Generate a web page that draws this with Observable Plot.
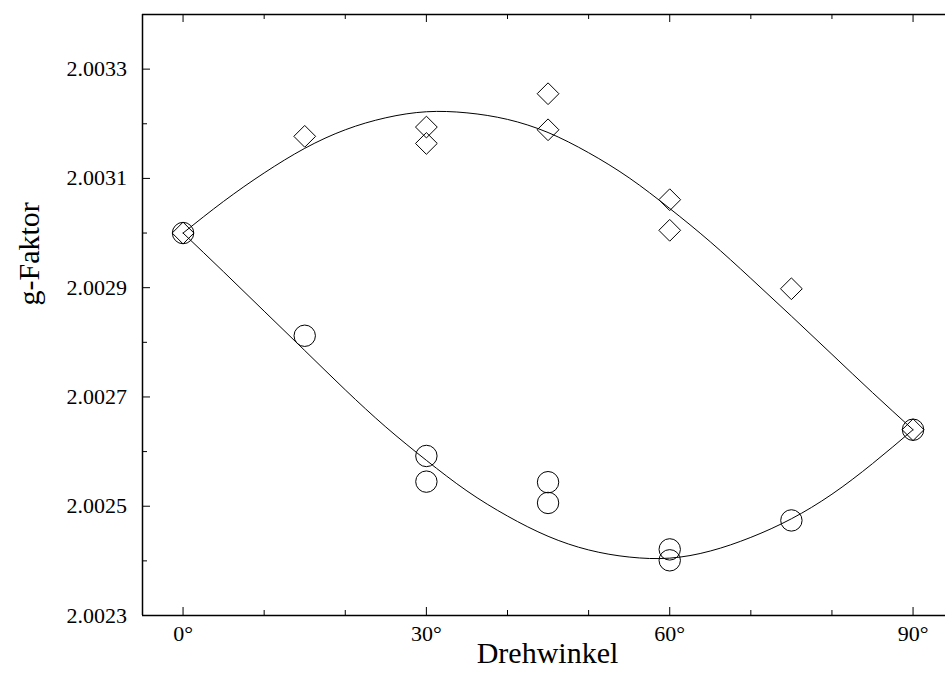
<!DOCTYPE html>
<html>
<head>
<meta charset="utf-8">
<script src="https://cdn.jsdelivr.net/npm/d3@7"></script>
<script src="https://cdn.jsdelivr.net/npm/@observablehq/plot@0.6"></script>
<style>
  body { margin: 0; background: #fff; }
  #chart svg { display: block; font-family: "Liberation Serif", "DejaVu Serif", serif !important; }
  #chart svg text { font-family: "Liberation Serif", "DejaVu Serif", serif !important; }
</style>
</head>
<body>
<div id="chart"></div>
<script>
// Measured points (Drehwinkel in degrees, g-Faktor)
const diamondAngles = [0, 15, 30, 30, 45, 45, 60, 60, 75, 90];
const diamondG = [2.003000, 2.003177, 2.003194, 2.003164, 2.003255, 2.003189, 2.003061, 2.003005, 2.002898, 2.002640];
const circleAngles = [0, 15, 30, 30, 45, 45, 60, 60, 75, 90];
const circleG = [2.003000, 2.002812, 2.002592, 2.002545, 2.002544, 2.002506, 2.002421, 2.002401, 2.002474, 2.002640];

// Fit curves
const fitAngles = [0, 5, 10, 15, 20, 25, 30, 35, 40, 45, 50, 55, 60, 65, 70, 75, 80, 85, 90];
const upperFit = [2.003000, 2.003058, 2.003110, 2.003155, 2.003189, 2.003211, 2.003222, 2.003220, 2.003208, 2.003184, 2.003147, 2.003101, 2.003045, 2.002984, 2.002917, 2.002848, 2.002778, 2.002708, 2.002640];
const lowerFit = [2.003000, 2.002929, 2.002857, 2.002785, 2.002713, 2.002645, 2.002584, 2.002528, 2.002482, 2.002445, 2.002420, 2.002407, 2.002405, 2.002418, 2.002443, 2.002477, 2.002522, 2.002578, 2.002640];

// Axes
const xDomain = [-5, 94];
const yDomain = [2.0023, 2.0034];
const xMajor = [0, 30, 60, 90];
const xMinor = [10, 20, 40, 50, 70, 80];
const yMajor = [2.0023, 2.0025, 2.0027, 2.0029, 2.0031, 2.0033];
const yMinor = [2.0024, 2.0026, 2.0028, 2.0030, 2.0032];
const xLabel = "Drehwinkel";
const yLabel = "g-Faktor";

const W = 945, H = 674, ML = 142, MR = 0, MT = 14, MB = 59;
const FW = W - ML - MR, FH = H - MT - MB;

const diamonds = diamondAngles.map((a, i) => ({a, g: diamondG[i]}));
const circles = circleAngles.map((a, i) => ({a, g: circleG[i]}));
const upper = fitAngles.map((a, i) => ({a, g: upperFit[i]}));
const lower = fitAngles.map((a, i) => ({a, g: lowerFit[i]}));

const chart = Plot.plot({
  width: W, height: H,
  marginLeft: ML, marginRight: MR, marginTop: MT, marginBottom: MB,
  style: {fontFamily: "'Liberation Serif', serif", fontSize: "22px", color: "black", background: "white"},
  x: {domain: xDomain},
  y: {domain: yDomain},
  marks: [
    // frame lines (left, bottom, top)
    Plot.ruleX([xDomain[0]], {stroke: "black", strokeWidth: 1.5}),
    Plot.ruleY([yDomain[0], yDomain[1]], {stroke: "black", strokeWidth: 1.5}),
    // inward ticks
    Plot.tickY(yMajor, {y: d => d, stroke: "black", insetRight: FW - 8}),
    Plot.tickY(yMinor, {y: d => d, stroke: "black", insetRight: FW - 5}),
    Plot.tickX(xMajor, {x: d => d, stroke: "black", insetTop: FH - 8}),
    Plot.tickX(xMinor, {x: d => d, stroke: "black", insetTop: FH - 5}),
    Plot.tickX(xMajor, {x: d => d, stroke: "black", insetBottom: FH - 8}),
    Plot.tickX(xMinor, {x: d => d, stroke: "black", insetBottom: FH - 5}),
    // tick labels
    Plot.axisY({ticks: yMajor, tickSize: 0, tickPadding: 15.5, tickFormat: d => d.toFixed(4), fontSize: 22, label: null}),
    Plot.axisX({ticks: xMajor, tickSize: 0, tickPadding: 10, tickFormat: d => d + "°", fontSize: 22, label: null}),
    // axis titles
    Plot.text([xLabel], {text: d => d, frameAnchor: "bottom", dy: 47.5, dx: 3.5, fontSize: 30, fill: "black"}),
    Plot.text([yLabel], {text: d => d, frameAnchor: "left", rotate: -90, dx: -113, dy: -9.5, fontSize: 30, fill: "black"}),
    // fit curves
    Plot.line(upper, {x: "a", y: "g", curve: "natural", stroke: "black", strokeWidth: 1}),
    Plot.line(lower, {x: "a", y: "g", curve: "natural", stroke: "black", strokeWidth: 1}),
    // data points
    Plot.dot(diamonds, {x: "a", y: "g", symbol: "diamond2", r: 9.8, stroke: "black", fill: "none", strokeWidth: 1}),
    Plot.dot(circles, {x: "a", y: "g", r: 10.7, stroke: "black", fill: "none", strokeWidth: 1})
  ]
});
document.getElementById("chart").append(chart);
</script>
</body>
</html>
